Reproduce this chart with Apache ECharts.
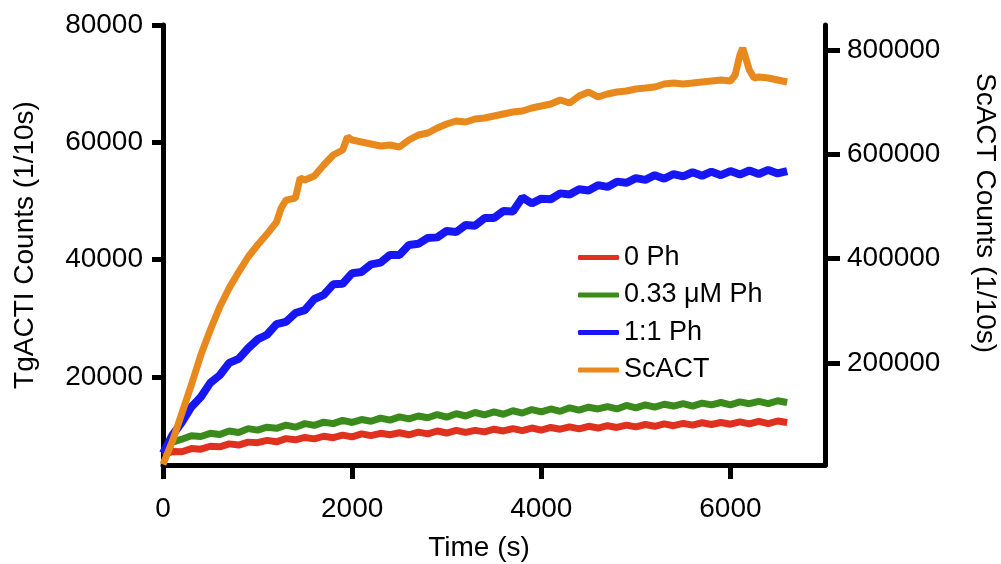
<!DOCTYPE html>
<html>
<head>
<meta charset="utf-8">
<script src="https://cdn.jsdelivr.net/npm/echarts@6/dist/echarts.min.js"></script>
<style>html,body{margin:0;padding:0;background:#fff}#c{width:1001px;height:564px}</style>
</head>
<body>
<div id="c"></div>
<script>
const time = [0,100,200,300,400,500,600,700,800,900,1000,1100,1200,1300,1400,1500,1600,1700,1800,1900,2000,2100,2200,2300,2400,2500,2600,2700,2800,2900,3000,3100,3200,3300,3400,3500,3600,3700,3800,3900,4000,4100,4200,4300,4400,4500,4600,4700,4800,4900,5000,5100,5200,5300,5400,5500,5600,5700,5800,5900,6000,6100,6200,6300,6400,6500,6600];
const zeroPh = [6700,7300,7250,7800,7700,8200,8100,8600,8400,8900,8800,9200,8950,9500,9300,9700,9450,9900,9650,10100,9800,10300,10000,10400,10150,10500,10150,10600,10300,10800,10450,10900,10550,10900,10650,11100,10800,11200,10850,11300,10950,11400,11100,11500,11150,11600,11300,11700,11400,11800,11500,11900,11600,12000,11700,12100,11800,12200,11900,12250,11950,12350,12000,12450,12050,12500,12250];
const ph033 = [7200,8900,9400,10000,9850,10400,10200,10800,10550,11200,10950,11450,11250,11800,11450,12050,11750,12300,12050,12600,12250,12750,12450,13000,12650,13200,12850,13350,13050,13600,13150,13750,13350,13950,13550,14050,13650,14250,13850,14450,14050,14550,14150,14750,14350,14850,14550,14950,14550,15150,14750,15250,14850,15350,15050,15450,15050,15550,15250,15650,15250,15750,15450,15850,15450,15950,15650];
const ph11 = [7000,10100,12300,14900,16600,19000,20300,22400,23100,24900,26400,27200,29000,29400,30900,31400,33300,34000,35800,35900,37700,37900,39200,39500,40800,40800,42500,42700,43700,43800,44900,44700,45900,45800,47100,47100,48300,48200,50600,49600,50400,50300,51300,51100,52000,51800,52700,52400,53300,53100,53900,53600,54400,53800,54600,54200,54900,54300,55000,54400,55100,54500,55200,54600,55300,54700,55100];
const scactTime = [0,100,200,300,400,500,600,700,800,900,1000,1100,1200,1250,1300,1400,1450,1500,1600,1700,1800,1900,1950,2000,2100,2200,2300,2400,2500,2600,2700,2800,2900,3000,3100,3200,3300,3400,3500,3600,3700,3800,3900,4000,4100,4200,4300,4400,4500,4600,4700,4800,4900,5000,5100,5200,5300,5400,5500,5600,5700,5800,5900,6000,6050,6100,6130,6200,6250,6300,6400,6500,6600];
const scact = [5000,50000,103700,157500,215000,263000,307000,343500,374200,403000,426000,447000,470000,497000,512000,516000,554500,550700,558400,579500,598600,608200,633200,627400,623600,619700,615900,617800,614000,627400,637000,640800,650400,658100,663900,662000,667700,669600,673500,677300,681100,683000,688800,692600,696500,704100,698400,711800,719500,709900,715600,719500,721400,725200,727100,729100,734800,736700,734800,736700,738700,740600,742500,740600,752100,790500,803900,761700,746300,748300,746300,742500,738700];
const xTicks = [0,2000,4000,6000];
const leftTicks = [20000,40000,60000,80000];
const rightTicks = [200000,400000,600000,800000];
const names = ['0 Ph','0.33 \u03bcM Ph','1:1 Ph','ScACT'];
const colors = ['#e0301e','#3b8a1c','#1717f5','#e8891e'];

const chart = echarts.init(document.getElementById('c'), null, {renderer:'canvas'});
const FONT = 'Liberation Sans, Arial, sans-serif';
const plain = v => String(v);
const axisCommon = {
  axisLine:{show:true, lineStyle:{color:'#000', width:5}},
  splitLine:{show:false},
  axisLabel:{color:'#000', fontSize:28, fontFamily:FONT, formatter:plain},
  nameTextStyle:{color:'#000', fontSize:28, fontFamily:FONT}
};
chart.setOption({
  animation:false,
  backgroundColor:'#fff',
  grid:{left:163, right:176, top:25, bottom:99, containLabel:false, outerBoundsMode:'none'},
  legend:{
    orient:'vertical', left:573, top:239,
    itemWidth:41, itemHeight:5, itemGap:10.5,
    icon:'roundRect',
    textStyle:{color:'#000', fontSize:27, fontFamily:FONT},
    data:names
  },
  xAxis:Object.assign({}, axisCommon, {
    type:'value', min:0, max:7000,
    name:'Time (s)', nameLocation:'middle', nameGap:69,
    nameTextStyle:Object.assign({}, axisCommon.nameTextStyle, {padding:[0,30,0,0]}),
    axisTick:{show:true, length:14, lineStyle:{color:'#000', width:5}, customValues:xTicks},
    axisLabel:Object.assign({}, axisCommon.axisLabel, {margin:30, customValues:xTicks})
  }),
  yAxis:[
    Object.assign({}, axisCommon, {
      type:'value', position:'left', min:5000, max:80000,
      name:'TgACTI Counts (1/10s)', nameLocation:'middle', nameGap:124,
      axisTick:{show:true, length:11, lineStyle:{color:'#000', width:5}, customValues:leftTicks},
      axisLabel:Object.assign({}, axisCommon.axisLabel, {margin:20, customValues:leftTicks})
    }),
    Object.assign({}, axisCommon, {
      type:'value', position:'right', min:4000, max:848000,
      name:'ScACT Counts (1/10s)', nameLocation:'middle', nameGap:146, nameRotate:-90,
      nameTextStyle:Object.assign({}, axisCommon.nameTextStyle, {padding:[0,64,0,0]}),
      axisTick:{show:true, length:15, lineStyle:{color:'#000', width:5}, customValues:rightTicks},
      axisLabel:Object.assign({}, axisCommon.axisLabel, {margin:22, customValues:rightTicks})
    })
  ],
  series:[
    {name:names[0], type:'line', yAxisIndex:0, showSymbol:false, symbol:'none', color:colors[0],
     lineStyle:{width:7, color:colors[0]}, data:time.map((t,i)=>[t,zeroPh[i]])},
    {name:names[1], type:'line', yAxisIndex:0, showSymbol:false, symbol:'none', color:colors[1],
     lineStyle:{width:7, color:colors[1]}, data:time.map((t,i)=>[t,ph033[i]])},
    {name:names[2], type:'line', yAxisIndex:0, showSymbol:false, symbol:'none', color:colors[2],
     lineStyle:{width:8, color:colors[2]}, data:time.map((t,i)=>[t,ph11[i]])},
    {name:names[3], type:'line', yAxisIndex:1, showSymbol:false, symbol:'none', color:colors[3],
     lineStyle:{width:7, color:colors[3]}, data:scactTime.map((t,i)=>[t,scact[i]])}
  ]
});
</script>
</body>
</html>
